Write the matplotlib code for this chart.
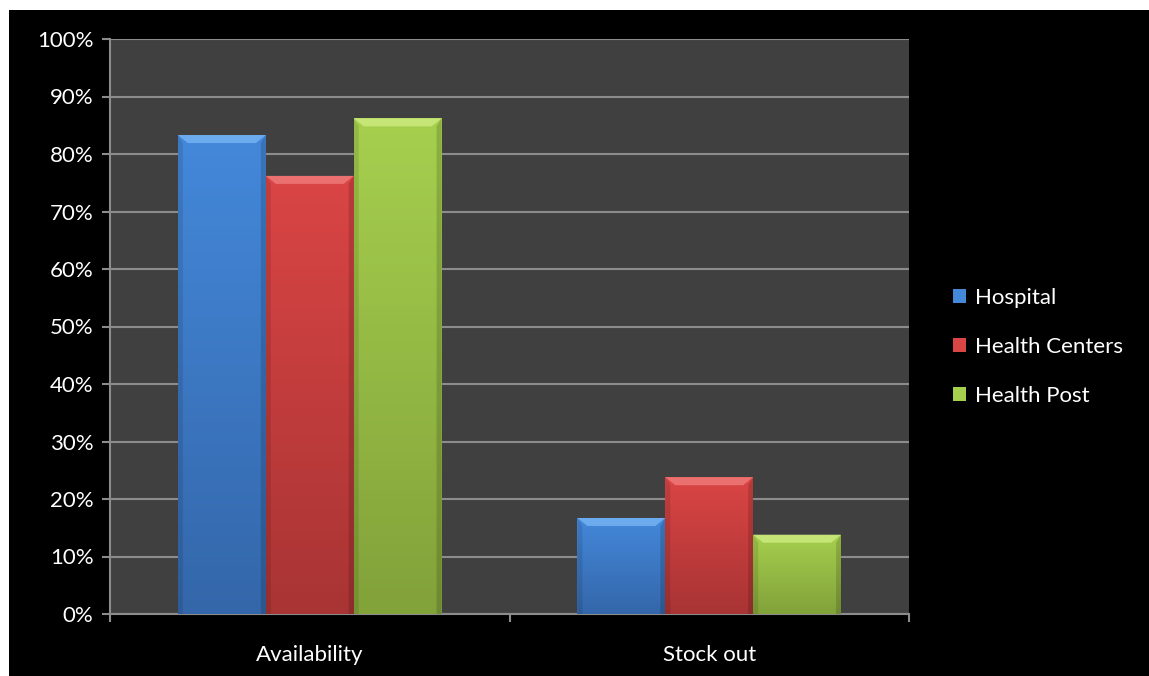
import matplotlib; matplotlib.use('Agg')
import matplotlib.pyplot as plt
import numpy as np
from matplotlib.patches import Patch, Polygon, Rectangle
from matplotlib.colors import LinearSegmentedColormap

plt.rcParams['font.family'] = ['Lato', 'DejaVu Sans']

categories = ['Availability', 'Stock out']
series = ['Hospital', 'Health Centers', 'Health Post']
hospital = [83.3, 16.7]
health_centers = [76.2, 23.8]
health_post = [86.2, 13.8]
values = [hospital, health_centers, health_post]

# (top, bottom, bevel-light) per series
palette = [
    ('#4488da', '#3467aa', '#7ab8f5'),
    ('#da4545', '#a93434', '#f27f7f'),
    ('#a6cf4e', '#82a23a', '#d2ee86'),
]
FG = 'white'
GRID = '#8c8c8c'

fig = plt.figure(figsize=(11.49, 6.76), dpi=100, facecolor='black')
# thin white margin on the left and top of the black slide
fig.patches.append(Rectangle((0, 0), 9 / 1149, 1, transform=fig.transFigure,
                             facecolor='white', edgecolor='none', zorder=-10))
fig.patches.append(Rectangle((0, 1 - 10 / 676), 1, 10 / 676, transform=fig.transFigure,
                             facecolor='white', edgecolor='none', zorder=-10))
ax = fig.add_axes([110 / 1149, 62 / 676, 799 / 1149, 575 / 676])
ax.set_facecolor('#404040')

x = np.arange(len(categories))
width = 0.22
offsets = [-width, 0, width]

bev_x = 0.025   # bevel width in category units
bev_y = 1.4     # bevel height in percent

for vals, off, (ctop, cbot, clight) in zip(values, offsets, palette):
    bars = ax.bar(x + off, vals, width, color=ctop, edgecolor='none', zorder=2)
    cmap = LinearSegmentedColormap.from_list('g', [cbot, ctop])
    for b in bars:
        x0, w, h = b.get_x(), b.get_width(), b.get_height()
        grad = np.linspace(0, 1, 100).reshape(-1, 1)
        im = ax.imshow(grad, cmap=cmap, origin='lower', aspect='auto',
                       extent=(x0, x0 + w, 0, h), zorder=3)
        im.set_clip_path(b)
        # top bevel
        ax.add_patch(Polygon([(x0, h), (x0 + w, h), (x0 + w - bev_x, h - bev_y),
                              (x0 + bev_x, h - bev_y)], closed=True,
                             facecolor=clight, edgecolor='none', alpha=0.75, zorder=4))
        # side bevels, slightly darker
        ax.add_patch(Polygon([(x0, 0), (x0, h), (x0 + bev_x * 0.5, h - bev_y),
                              (x0 + bev_x * 0.5, 0)], closed=True,
                             facecolor='black', edgecolor='none', alpha=0.10, zorder=4))
        ax.add_patch(Polygon([(x0 + w, 0), (x0 + w, h), (x0 + w - bev_x * 0.5, h - bev_y),
                              (x0 + w - bev_x * 0.5, 0)], closed=True,
                             facecolor='black', edgecolor='none', alpha=0.15, zorder=4))

ax.set_xlim(-0.5, len(categories) - 0.5)
ax.set_ylim(0, 100)
ax.set_yticks(np.arange(0, 101, 10))
ax.set_yticklabels([f'{v}%' for v in range(0, 101, 10)])
ax.yaxis.grid(True, color=GRID, linewidth=1.5, zorder=1)
ax.set_axisbelow(True)

ax.set_xticks(np.arange(-0.5, len(categories), 1.0))
ax.set_xticklabels([])
ax.set_xticks(x, minor=True)
ax.set_xticklabels(categories, minor=True)
ax.tick_params(axis='x', which='major', length=6, color=GRID, width=1.5)
ax.tick_params(axis='x', which='minor', length=0, pad=22, labelsize=16, labelcolor=FG)
ax.tick_params(axis='y', length=6, color=GRID, width=1.5, labelsize=16, labelcolor=FG, pad=6)

for side in ['top', 'right']:
    ax.spines[side].set_visible(False)
ax.spines['left'].set_color(GRID)
ax.spines['bottom'].set_color(GRID)
ax.spines['left'].set_linewidth(1.5)
ax.spines['bottom'].set_linewidth(1.5)

handles = [Patch(facecolor=p[0], edgecolor='none', label=s) for s, p in zip(series, palette)]
leg = fig.legend(handles=handles, loc='center left', bbox_to_anchor=(933 / 1149, 1 - 347 / 676),
                 frameon=False, fontsize=16, labelcolor=FG, handlelength=0.6, handleheight=0.6,
                 handletextpad=0.4, labelspacing=1.3)

fig.savefig('out.png', dpi=100, facecolor=fig.get_facecolor())
